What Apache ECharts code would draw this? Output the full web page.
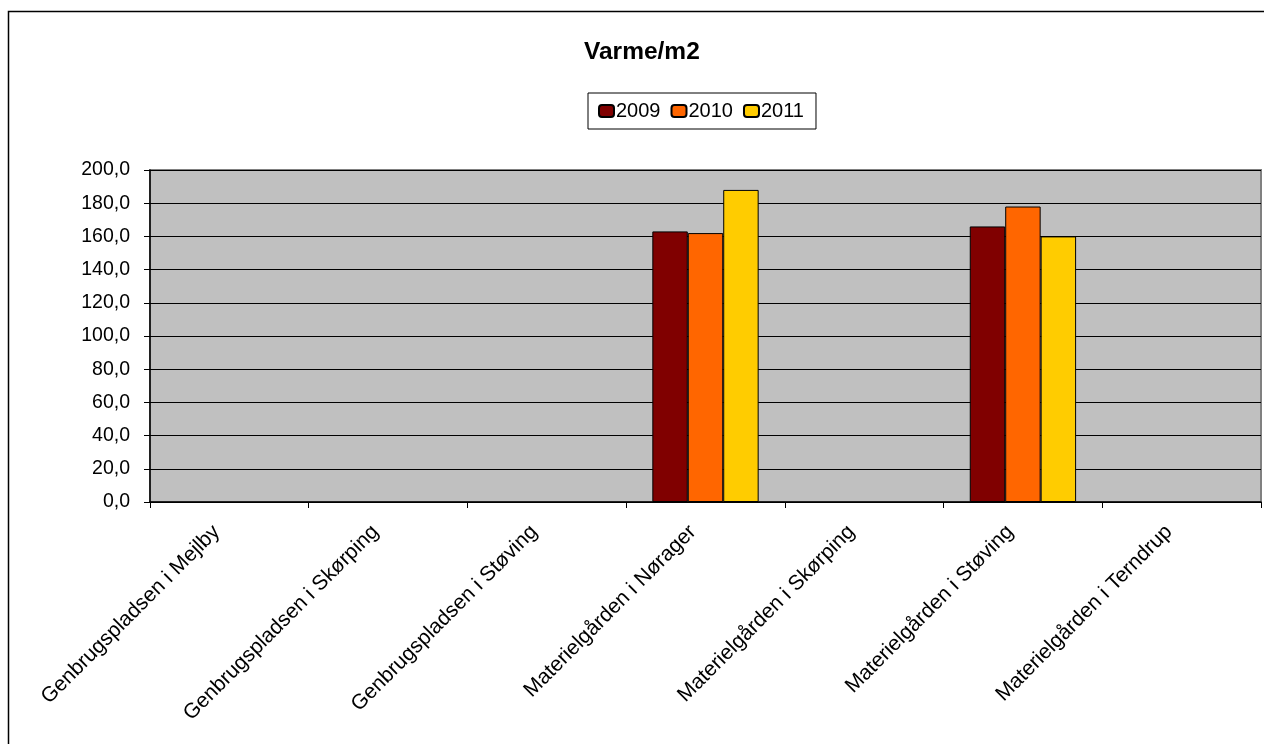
<!DOCTYPE html>
<html>
<head>
<meta charset="utf-8">
<script src="https://cdn.jsdelivr.net/npm/echarts@6/dist/echarts.min.js"></script>
<style>html,body{margin:0;padding:0;background:#fff;}#c{width:1264px;height:744px;}</style>
</head>
<body>
<div id="c"></div>
<script>
const categories = ["Genbrugspladsen i Mejlby","Genbrugspladsen i Skørping","Genbrugspladsen i Støving","Materielgården i Nørager","Materielgården i Skørping","Materielgården i Støving","Materielgården i Terndrup"];
const seriesNames = ["2009","2010","2011"];
const values2009 = [null,null,null,163,null,166,null];
const values2010 = [null,null,null,162,null,178,null];
const values2011 = [null,null,null,188,null,160,null];
const colors = ["#800000","#FF6600","#FFCC00"];
const FONT = "Liberation Sans, Arial, sans-serif";

const chart = echarts.init(document.getElementById('c'), null, {renderer:'canvas'});
const data = [values2009, values2010, values2011];
chart.setOption({
  animation:false,
  textStyle:{fontFamily:FONT},
  title:{text:"Varme/m2", left:579, top:35, textStyle:{fontFamily:FONT,fontWeight:'bold',fontSize:24.5,color:'#000'}},
  legend:{
    data:seriesNames, left:588, top:93,
    borderColor:'#000', borderWidth:1, padding:[8,12,8,10],
    itemWidth:15, itemHeight:12, itemGap:10,
    textStyle:{fontFamily:FONT,fontSize:20,color:'#000',padding:[0,0,0,-3]}
  },
  graphic:[{type:'rect', shape:{x:8.5,y:11.5,width:1300,height:800}, style:{fill:'none',stroke:'#000',lineWidth:1.5}, silent:true, z:-10}],
  grid:{left:150, right:3, top:170, bottom:242, show:true, backgroundColor:'#C0C0C0', borderColor:'#808080', borderWidth:2},
  xAxis:{
    type:'category', data:categories,
    axisLine:{lineStyle:{color:'#000',width:1.5}},
    axisTick:{show:true, alignWithLabel:false, length:6, lineStyle:{color:'#000'}},
    axisLabel:{rotate:45, interval:0, fontFamily:FONT, fontSize:21, color:'#000', margin:14, padding:[0,18,0,0]}
  },
  yAxis:{
    type:'value', min:0, max:200, interval:20,
    axisLine:{show:true, lineStyle:{color:'#000',width:1.5}},
    axisTick:{show:true, inside:false, length:6, lineStyle:{color:'#000'}},
    splitLine:{show:true, lineStyle:{color:'#000',width:1.2}},
    axisLabel:{fontFamily:FONT, fontSize:19.5, color:'#000', margin:20, formatter:v=>v.toFixed(1).replace('.',',')}
  },
  series: seriesNames.map((n,i)=>({
    name:n, type:'bar', data:data[i], barGap:'0%', barCategoryGap:'33%',
    itemStyle:{color:colors[i], borderColor:'#000', borderWidth:1}
  }))
});
</script>
</body>
</html>
